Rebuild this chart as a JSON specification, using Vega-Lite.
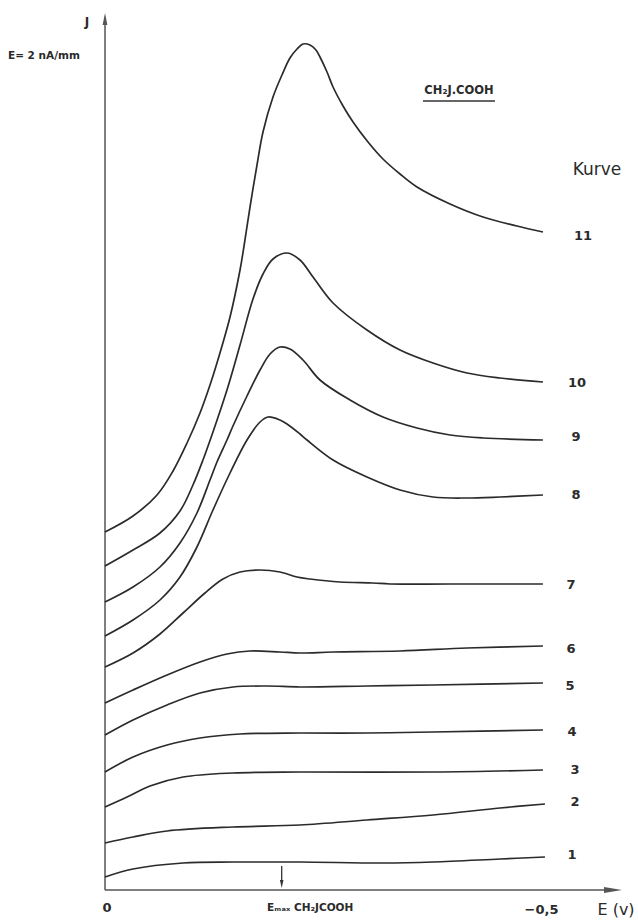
{
  "$schema": "https://vega.github.io/schema/vega-lite/v6.json",
  "width": 638,
  "height": 921,
  "autosize": "none",
  "padding": 0,
  "background": "#ffffff",
  "config": {"view": {"stroke": null}},
  "encoding": {
    "x": {"field": "E", "type": "quantitative", "scale": {"domain": [-0.61264, 0.12069], "reverse": true, "nice": false, "zero": false}, "axis": null},
    "y": {"field": "J", "type": "quantitative", "scale": {"domain": [-31, 890], "nice": false, "zero": false}, "axis": null}
  },
  "layer": [
    {
      "data": {"values": [{"E": 0, "J": 0, "J2": 866}]},
      "mark": {"type": "rule", "color": "#555555", "strokeWidth": 1.5},
      "encoding": {"y2": {"field": "J2"}}
    },
    {
      "data": {"values": [{"E": 0, "E2": -0.5747, "J": 0}]},
      "mark": {"type": "rule", "color": "#555555", "strokeWidth": 1.5},
      "encoding": {"x2": {"field": "E2"}}
    },
    {
      "data": {"values": [{"E": 0, "J": 871}]},
      "mark": {"type": "point", "filled": true, "color": "#555555", "opacity": 1, "shape": "M -0.4 1 L 0 -1 L 0.4 1 Z", "size": 144}
    },
    {
      "data": {"values": [{"E": -0.5839, "J": 0}]},
      "mark": {"type": "point", "filled": true, "color": "#555555", "opacity": 1, "shape": "M -1 -0.33 L 1 0 L -1 0.33 Z", "size": 324}
    },
    {
      "data": {"values": [{"E": -0.2031, "J": 24, "J2": 7}]},
      "mark": {"type": "rule", "color": "#333333", "strokeWidth": 1.3},
      "encoding": {"y2": {"field": "J2"}}
    },
    {
      "data": {"values": [{"E": -0.2031, "J": 6}]},
      "mark": {"type": "point", "filled": true, "color": "#333333", "opacity": 1, "shape": "M -0.45 -1 L 0.45 -1 L 0 1 Z", "size": 64}
    },
    {
      "data": {"values": [{"E": -0.3655, "E2": -0.4483, "J": 789}]},
      "mark": {"type": "rule", "color": "#333333", "strokeWidth": 1.3},
      "encoding": {"x2": {"field": "E2"}}
    },
    {
      "data": {"values": [
        {"k": 11, "E": 0, "J": 358}, {"k": 11, "E": -0.0322, "J": 374}, {"k": 11, "E": -0.0598, "J": 395}, {"k": 11, "E": -0.0782, "J": 419}, {"k": 11, "E": -0.0943, "J": 447}, {"k": 11, "E": -0.1092, "J": 477}, {"k": 11, "E": -0.1207, "J": 505}, {"k": 11, "E": -0.1287, "J": 527}, {"k": 11, "E": -0.1437, "J": 573}, {"k": 11, "E": -0.1552, "J": 620}, {"k": 11, "E": -0.1598, "J": 644}, {"k": 11, "E": -0.1667, "J": 683}, {"k": 11, "E": -0.1747, "J": 725}, {"k": 11, "E": -0.1816, "J": 758}, {"k": 11, "E": -0.1931, "J": 793}, {"k": 11, "E": -0.2034, "J": 815}, {"k": 11, "E": -0.2126, "J": 832}, {"k": 11, "E": -0.2207, "J": 841}, {"k": 11, "E": -0.2276, "J": 846}, {"k": 11, "E": -0.2356, "J": 845}, {"k": 11, "E": -0.2425, "J": 840}, {"k": 11, "E": -0.2471, "J": 833}, {"k": 11, "E": -0.2552, "J": 818}, {"k": 11, "E": -0.2621, "J": 803}, {"k": 11, "E": -0.2736, "J": 784}, {"k": 11, "E": -0.2851, "J": 768}, {"k": 11, "E": -0.3023, "J": 748}, {"k": 11, "E": -0.3195, "J": 731}, {"k": 11, "E": -0.3391, "J": 716}, {"k": 11, "E": -0.3586, "J": 703}, {"k": 11, "E": -0.3966, "J": 686}, {"k": 11, "E": -0.4345, "J": 673}, {"k": 11, "E": -0.4736, "J": 664}, {"k": 11, "E": -0.5034, "J": 658},
        {"k": 10, "E": 0, "J": 324}, {"k": 10, "E": -0.0322, "J": 340}, {"k": 10, "E": -0.0632, "J": 357}, {"k": 10, "E": -0.0862, "J": 379}, {"k": 10, "E": -0.1011, "J": 405}, {"k": 10, "E": -0.1126, "J": 430}, {"k": 10, "E": -0.1241, "J": 458}, {"k": 10, "E": -0.1402, "J": 500}, {"k": 10, "E": -0.1552, "J": 545}, {"k": 10, "E": -0.1701, "J": 591}, {"k": 10, "E": -0.1816, "J": 616}, {"k": 10, "E": -0.1931, "J": 631}, {"k": 10, "E": -0.2092, "J": 637}, {"k": 10, "E": -0.2241, "J": 630}, {"k": 10, "E": -0.2391, "J": 613}, {"k": 10, "E": -0.2621, "J": 587}, {"k": 10, "E": -0.3011, "J": 560}, {"k": 10, "E": -0.3391, "J": 540}, {"k": 10, "E": -0.377, "J": 527}, {"k": 10, "E": -0.4161, "J": 517}, {"k": 10, "E": -0.454, "J": 512}, {"k": 10, "E": -0.5034, "J": 508},
        {"k": 9, "E": 0, "J": 288}, {"k": 9, "E": -0.0322, "J": 303}, {"k": 9, "E": -0.0632, "J": 323}, {"k": 9, "E": -0.0862, "J": 347}, {"k": 9, "E": -0.1057, "J": 377}, {"k": 9, "E": -0.1207, "J": 410}, {"k": 9, "E": -0.1287, "J": 428}, {"k": 9, "E": -0.1402, "J": 450}, {"k": 9, "E": -0.1471, "J": 464}, {"k": 9, "E": -0.1632, "J": 494}, {"k": 9, "E": -0.1782, "J": 520}, {"k": 9, "E": -0.1897, "J": 536}, {"k": 9, "E": -0.2011, "J": 543}, {"k": 9, "E": -0.2126, "J": 541}, {"k": 9, "E": -0.2276, "J": 530}, {"k": 9, "E": -0.2471, "J": 510}, {"k": 9, "E": -0.2816, "J": 490}, {"k": 9, "E": -0.3195, "J": 473}, {"k": 9, "E": -0.3586, "J": 462}, {"k": 9, "E": -0.3966, "J": 455}, {"k": 9, "E": -0.4345, "J": 452}, {"k": 9, "E": -0.5034, "J": 450},
        {"k": 8, "E": 0, "J": 254}, {"k": 8, "E": -0.0322, "J": 270}, {"k": 8, "E": -0.0632, "J": 290}, {"k": 8, "E": -0.0862, "J": 313}, {"k": 8, "E": -0.1057, "J": 343}, {"k": 8, "E": -0.1241, "J": 380}, {"k": 8, "E": -0.1437, "J": 417}, {"k": 8, "E": -0.1632, "J": 450}, {"k": 8, "E": -0.1782, "J": 468}, {"k": 8, "E": -0.1874, "J": 473}, {"k": 8, "E": -0.2011, "J": 470}, {"k": 8, "E": -0.2092, "J": 466}, {"k": 8, "E": -0.2241, "J": 456}, {"k": 8, "E": -0.2322, "J": 450}, {"k": 8, "E": -0.2621, "J": 430}, {"k": 8, "E": -0.3011, "J": 413}, {"k": 8, "E": -0.3391, "J": 400}, {"k": 8, "E": -0.377, "J": 393}, {"k": 8, "E": -0.4161, "J": 392}, {"k": 8, "E": -0.454, "J": 393}, {"k": 8, "E": -0.5034, "J": 395},
        {"k": 7, "E": 0, "J": 223}, {"k": 7, "E": -0.0322, "J": 237}, {"k": 7, "E": -0.0632, "J": 256}, {"k": 7, "E": -0.0897, "J": 277}, {"k": 7, "E": -0.1149, "J": 297}, {"k": 7, "E": -0.1356, "J": 311}, {"k": 7, "E": -0.1552, "J": 318}, {"k": 7, "E": -0.1782, "J": 320}, {"k": 7, "E": -0.2011, "J": 318}, {"k": 7, "E": -0.2207, "J": 313}, {"k": 7, "E": -0.2356, "J": 311}, {"k": 7, "E": -0.2701, "J": 308}, {"k": 7, "E": -0.308, "J": 307}, {"k": 7, "E": -0.3276, "J": 306}, {"k": 7, "E": -0.3966, "J": 306}, {"k": 7, "E": -0.5034, "J": 306},
        {"k": 6, "E": 0, "J": 187}, {"k": 6, "E": -0.0322, "J": 200}, {"k": 6, "E": -0.0713, "J": 215}, {"k": 6, "E": -0.1092, "J": 228}, {"k": 6, "E": -0.1402, "J": 236}, {"k": 6, "E": -0.1667, "J": 239}, {"k": 6, "E": -0.2011, "J": 238}, {"k": 6, "E": -0.2241, "J": 237}, {"k": 6, "E": -0.2621, "J": 238}, {"k": 6, "E": -0.3391, "J": 239}, {"k": 6, "E": -0.4161, "J": 242}, {"k": 6, "E": -0.5034, "J": 244},
        {"k": 5, "E": 0, "J": 155}, {"k": 5, "E": -0.0322, "J": 170}, {"k": 5, "E": -0.0713, "J": 185}, {"k": 5, "E": -0.1092, "J": 197}, {"k": 5, "E": -0.1471, "J": 203}, {"k": 5, "E": -0.1862, "J": 204}, {"k": 5, "E": -0.2241, "J": 203}, {"k": 5, "E": -0.3011, "J": 204}, {"k": 5, "E": -0.377, "J": 205}, {"k": 5, "E": -0.5034, "J": 207},
        {"k": 4, "E": 0, "J": 118}, {"k": 4, "E": -0.0322, "J": 133}, {"k": 4, "E": -0.0713, "J": 145}, {"k": 4, "E": -0.1092, "J": 152}, {"k": 4, "E": -0.1552, "J": 156}, {"k": 4, "E": -0.2241, "J": 157}, {"k": 4, "E": -0.3011, "J": 157}, {"k": 4, "E": -0.377, "J": 158}, {"k": 4, "E": -0.5034, "J": 160},
        {"k": 3, "E": 0, "J": 83}, {"k": 3, "E": -0.0253, "J": 93}, {"k": 3, "E": -0.0517, "J": 104}, {"k": 3, "E": -0.0897, "J": 113}, {"k": 3, "E": -0.1471, "J": 117}, {"k": 3, "E": -0.2241, "J": 118}, {"k": 3, "E": -0.377, "J": 118}, {"k": 3, "E": -0.5034, "J": 120},
        {"k": 2, "E": 0, "J": 47}, {"k": 2, "E": -0.0322, "J": 53}, {"k": 2, "E": -0.0713, "J": 59}, {"k": 2, "E": -0.1471, "J": 63}, {"k": 2, "E": -0.2241, "J": 65}, {"k": 2, "E": -0.3011, "J": 70}, {"k": 2, "E": -0.377, "J": 75}, {"k": 2, "E": -0.454, "J": 82}, {"k": 2, "E": -0.5057, "J": 86},
        {"k": 1, "E": 0, "J": 13}, {"k": 1, "E": -0.0322, "J": 21}, {"k": 1, "E": -0.0897, "J": 27}, {"k": 1, "E": -0.1471, "J": 28}, {"k": 1, "E": -0.2241, "J": 28}, {"k": 1, "E": -0.3195, "J": 27}, {"k": 1, "E": -0.377, "J": 28}, {"k": 1, "E": -0.454, "J": 31}, {"k": 1, "E": -0.5057, "J": 33}
      ]},
      "mark": {"type": "line", "color": "#2b2b2b", "strokeWidth": 1.7, "interpolate": "catmull-rom"},
      "encoding": {
        "detail": {"field": "k", "type": "nominal"},
        "order": {"field": "E", "sort": "descending"}
      }
    },
    {
      "data": {"values": [
        {"E": -0.5494, "J": 654, "t": "11"}, {"E": -0.5425, "J": 507, "t": "10"}, {"E": -0.5414, "J": 453, "t": "9"}, {"E": -0.5414, "J": 395, "t": "8"}, {"E": -0.5356, "J": 305, "t": "7"}, {"E": -0.5356, "J": 241, "t": "6"}, {"E": -0.5345, "J": 204, "t": "5"}, {"E": -0.5368, "J": 158, "t": "4"}, {"E": -0.5402, "J": 120, "t": "3"}, {"E": -0.5402, "J": 88, "t": "2"}, {"E": -0.5368, "J": 35, "t": "1"}
      ]},
      "mark": {"type": "text", "font": "DejaVu Sans", "fontWeight": "bold", "fontSize": 13, "color": "#2b2b2b", "align": "center", "baseline": "middle"},
      "encoding": {"text": {"field": "t"}}
    },
    {
      "data": {"values": [{"E": -0.5655, "J": 720, "t": "Kurve"}]},
      "mark": {"type": "text", "font": "DejaVu Sans", "fontSize": 17, "color": "#2b2b2b", "align": "center", "baseline": "middle"},
      "encoding": {"text": {"field": "t"}}
    },
    {
      "data": {"values": [{"E": -0.4069, "J": 799, "t": "CH₂J.COOH"}]},
      "mark": {"type": "text", "font": "DejaVu Sans", "fontWeight": "bold", "fontSize": 11.5, "color": "#2b2b2b", "align": "center", "baseline": "middle"},
      "encoding": {"text": {"field": "t"}}
    },
    {
      "data": {"values": [{"E": 0.0207, "J": 868, "t": "J"}]},
      "mark": {"type": "text", "font": "DejaVu Sans", "fontWeight": "bold", "fontSize": 12, "color": "#2b2b2b", "align": "center", "baseline": "middle"},
      "encoding": {"text": {"field": "t"}}
    },
    {
      "data": {"values": [{"E": 0.1115, "J": 834, "t": "E= 2 nA/mm"}]},
      "mark": {"type": "text", "font": "DejaVu Sans", "fontWeight": "bold", "fontSize": 10.5, "color": "#2b2b2b", "align": "left", "baseline": "middle"},
      "encoding": {"text": {"field": "t"}}
    },
    {
      "data": {"values": [{"E": -0.0023, "J": -18, "t": "0"}, {"E": -0.5017, "J": -20, "t": "−0,5"}]},
      "mark": {"type": "text", "font": "DejaVu Sans", "fontWeight": "bold", "fontSize": 13, "color": "#2b2b2b", "align": "center", "baseline": "middle"},
      "encoding": {"text": {"field": "t"}}
    },
    {
      "data": {"values": [{"E": -0.5874, "J": -20, "t": "E (v)"}]},
      "mark": {"type": "text", "font": "DejaVu Sans", "fontSize": 16, "color": "#2b2b2b", "align": "center", "baseline": "middle"},
      "encoding": {"text": {"field": "t"}}
    },
    {
      "data": {"values": [{"E": -0.1862, "J": -18, "t": "Eₘₐₓ  CH₂JCOOH"}]},
      "mark": {"type": "text", "font": "DejaVu Sans", "fontWeight": "bold", "fontSize": 10.5, "color": "#2b2b2b", "align": "left", "baseline": "middle"},
      "encoding": {"text": {"field": "t"}}
    }
  ]
}
